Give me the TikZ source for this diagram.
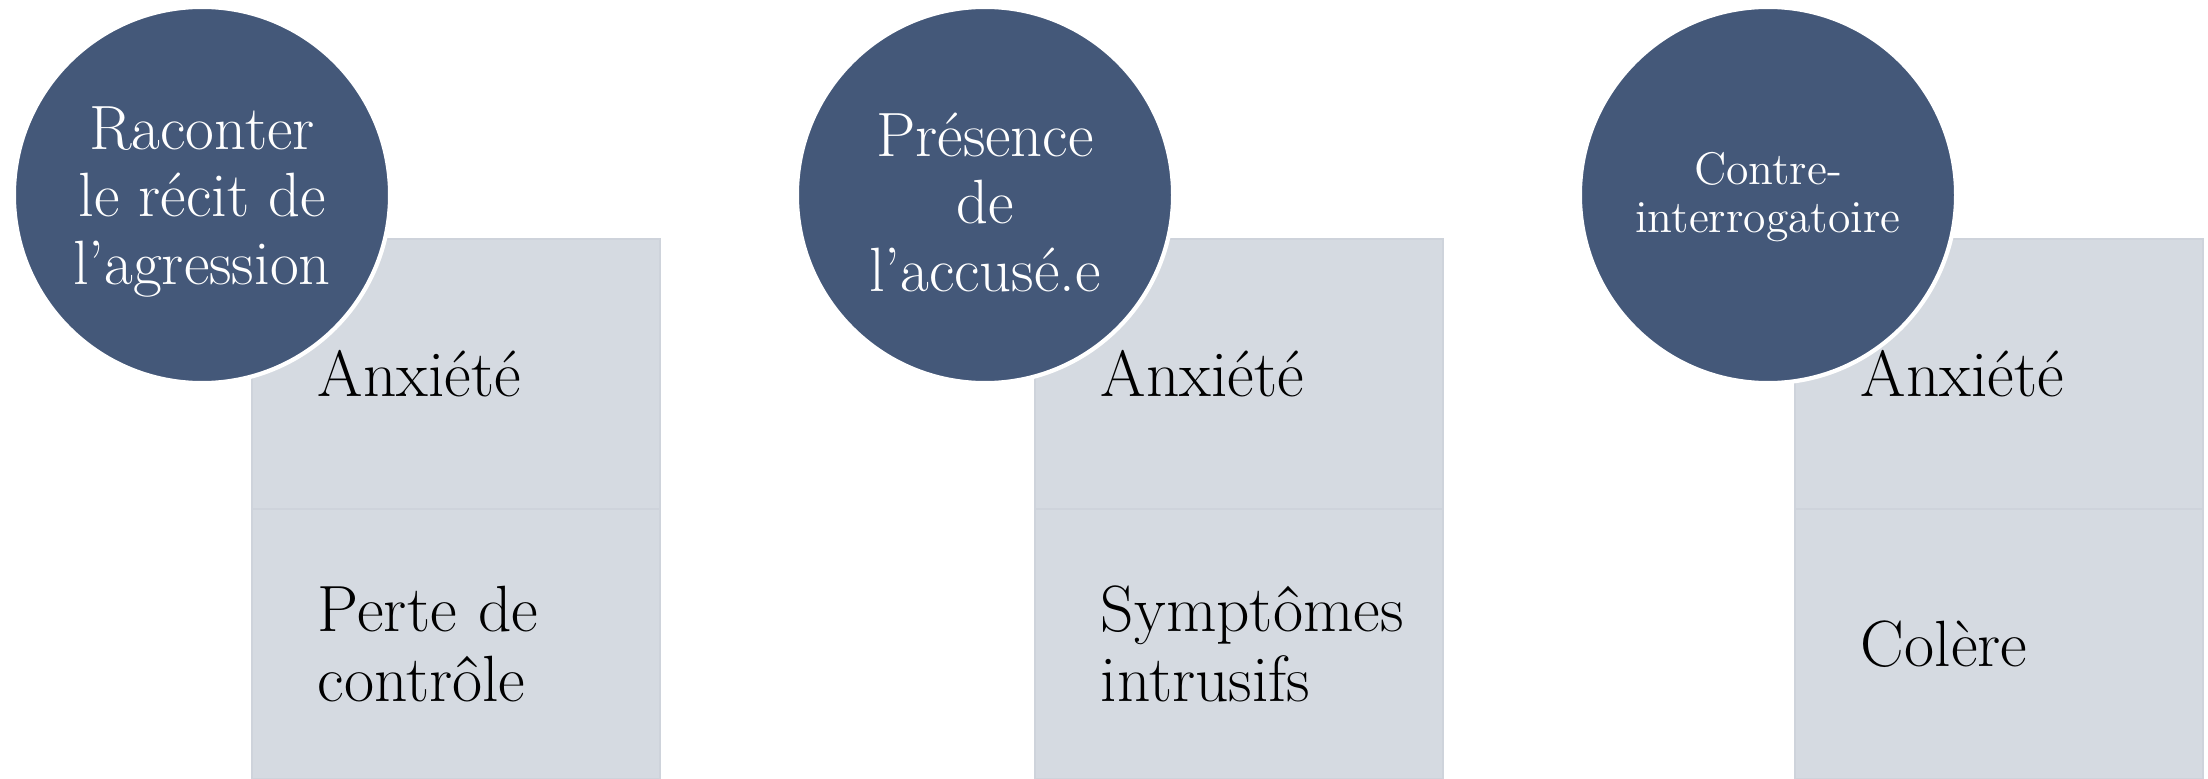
\documentclass[tikz,border=0pt]{standalone}
\usepackage{fontspec}
\definecolor{circ}{RGB}{68,88,121}
\definecolor{cellfill}{RGB}{213,218,225}
\definecolor{cellline}{RGB}{206,211,219}
\tikzset{
  topic/.style={circle, fill=circ, draw=white, line width=1.2pt, minimum size=3.76cm, inner sep=0pt},
  topictext/.style={text=white, align=center, inner sep=0pt, font=\fontsize{17.8}{19.2}\selectfont},
  topictextsmall/.style={topictext, font=\fontsize{13}{13.8}\selectfont},
  cell/.style={rectangle, fill=cellfill, draw=cellline, line width=0.5pt, minimum width=4.08cm,
    minimum height=2.70cm, text width=2.76cm, inner xsep=0.66cm, inner ysep=0pt, align=left,
    font=\fontsize{18.6}{19.7}\selectfont}
}
\begin{document}
\begin{tikzpicture}[x=0.01cm,y=-0.01cm]
\useasboundingbox (0,0) rectangle (2208,779);
% column 1
\node[cell] (a1) at (456,374) {Anxiété};
\node[cell] (a2) at (456,644) {Perte de\\contrôle};
\node[topic] (c1) at (202,195) {};
\node[topictext, yshift=-0.07cm] (t1) at (c1.center) {Raconter\\le récit de\\l’agression};
% column 2
\node[cell] (b1) at (1239,374) {Anxiété};
\node[cell] (b2) at (1239,644) {Symptômes\\intrusifs};
\node[topic] (c2) at (985,195) {};
\node[topictext, yshift=-0.07cm] (t2) at (c2.center) {Présence\\de\\l’accusé.e};
% column 3
\node[cell] (d1) at (1999,374) {Anxiété};
\node[cell] (d2) at (1999,644) {Colère};
\node[topic] (c3) at (1768,195) {};
\node[topictextsmall, yshift=-0.02cm] (t3) at (c3.center) {Contre-\\interrogatoire};
\end{tikzpicture}
\end{document}
